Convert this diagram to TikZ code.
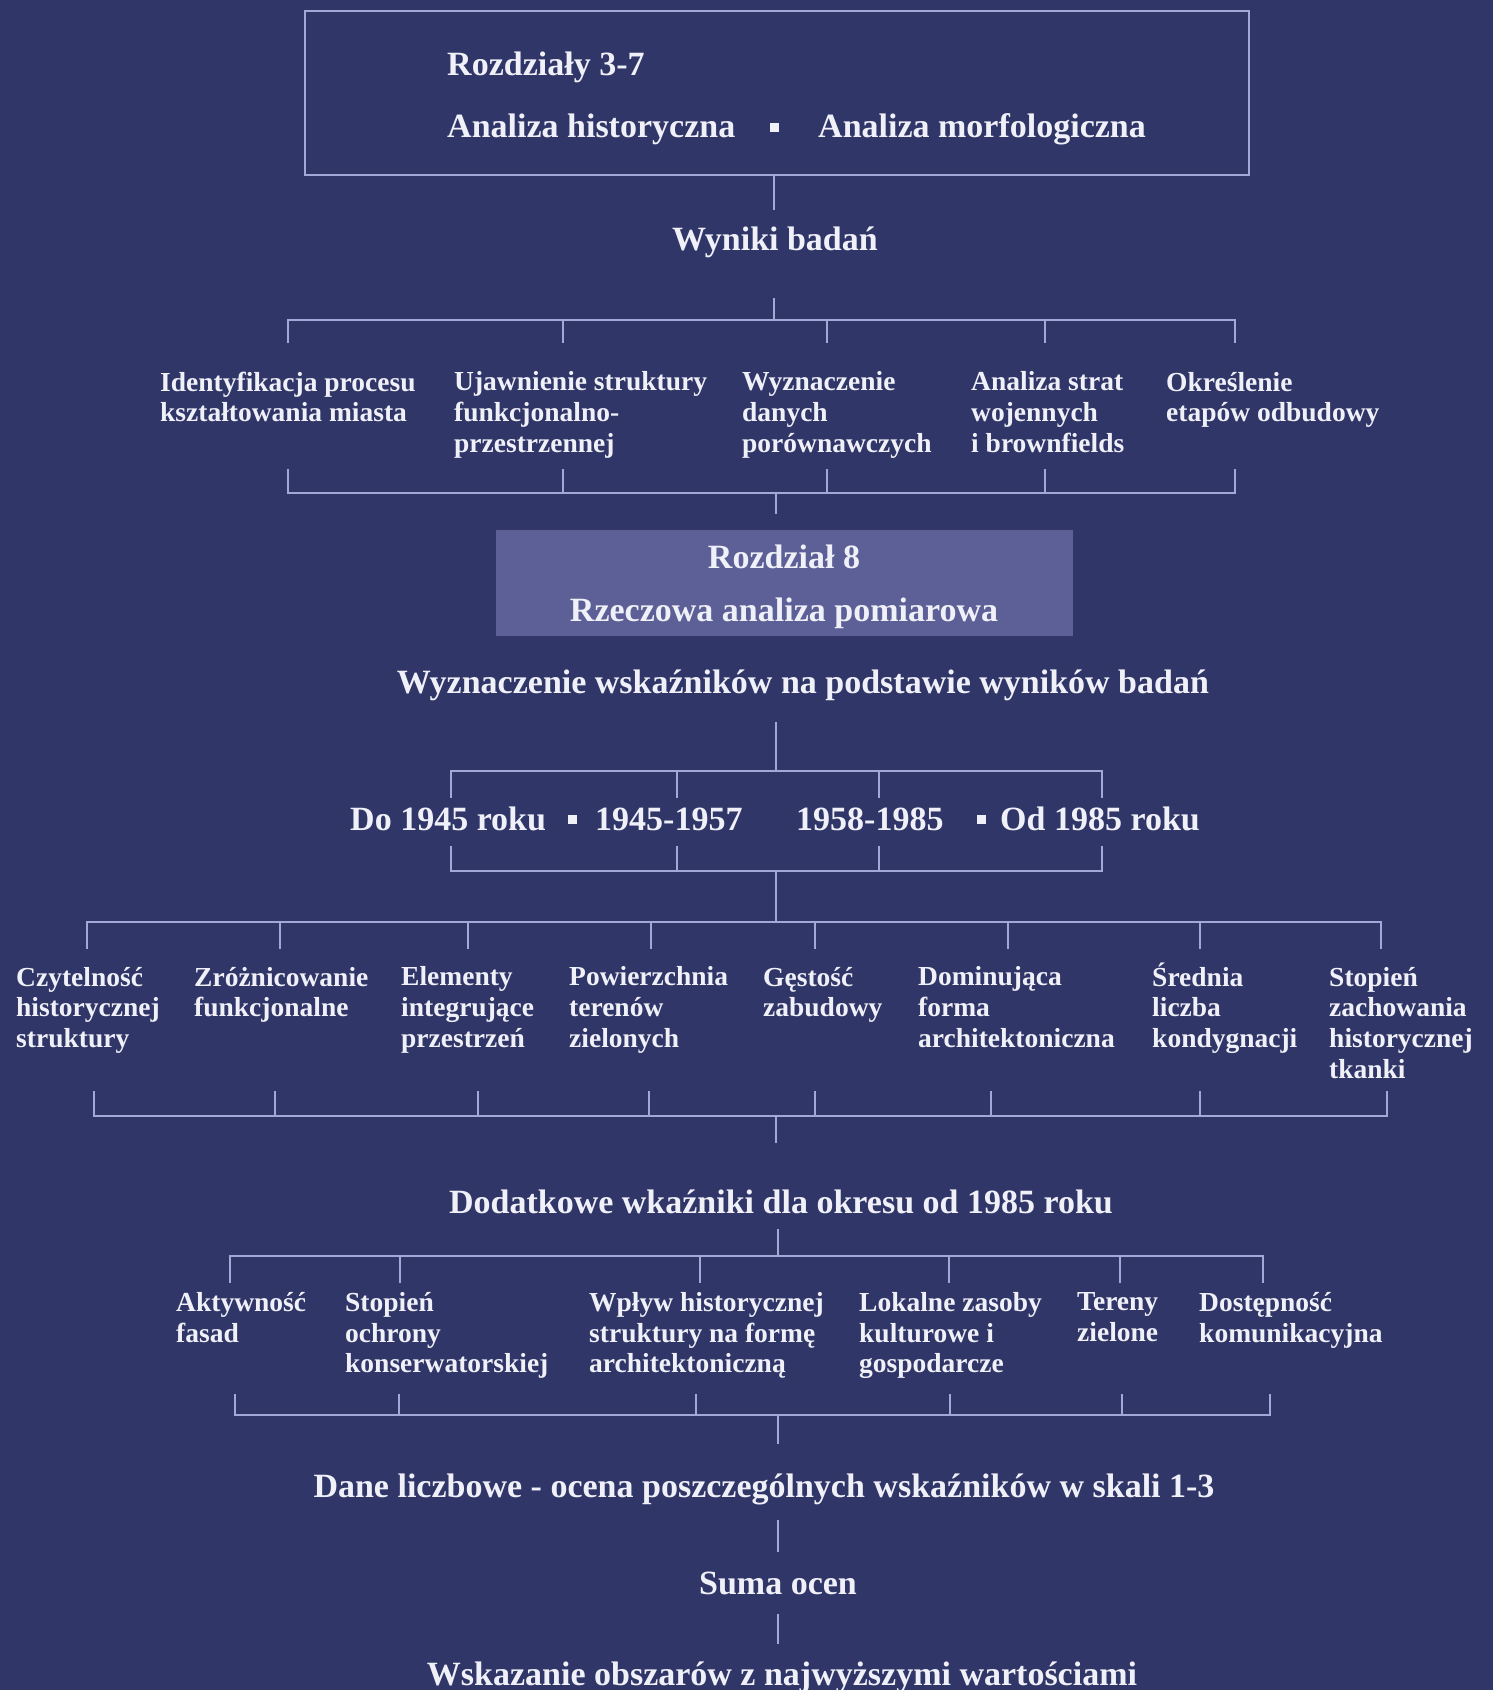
\documentclass[tikz,border=0pt]{standalone}
\usepackage{fontspec}
\setmainfont{Liberation Serif}
\definecolor{bg}{HTML}{303668}
\definecolor{ln}{HTML}{A3A8D8}
\definecolor{tx}{HTML}{F0F0F8}
\definecolor{boxfill}{HTML}{5C6097}
\begin{document}
\begin{tikzpicture}[x=1pt,y=-1pt,
  conn/.style={draw=ln, line width=2.4pt},
  head/.style={text=tx, font=\fontsize{34}{40}\selectfont\bfseries, inner sep=0pt, anchor=base},
  lbl/.style={text=tx, font=\fontsize{27.5}{30.7}\selectfont\bfseries, align=left, inner sep=0pt, anchor=north west},
  sq/.style={fill=tx, minimum size=9pt, inner sep=0pt}]
\useasboundingbox (0,0) rectangle (1493,1690);
\fill[bg] (0,0) rectangle (1493,1690);

% ---- top box
\node[draw=ln, line width=2pt, minimum width=944pt, minimum height=164pt, inner sep=0pt] (top) at (777,93) {};
\node[head, anchor=base west] (r37) at (447,75) {Rozdziały 3-7};
\node[head, anchor=base west] (ah) at (447,137) {Analiza historyczna};
\node[sq] (d0) at (774,127) {};
\node[head, anchor=base west] (am) at (818,137) {Analiza morfologiczna};

\coordinate (s1) at (774,210);
\draw[conn] (s1 |- top.south) -- (s1);
\node[head] (wyniki) at (775,250) {Wyniki badań};
\coordinate (s2) at (774,298);

% ---- bracket 1
\foreach \x [count=\i] in {288,563,827,1045,1235} {
  \coordinate (b1t\i) at (\x,320); \coordinate (b1e\i) at (\x,343);
  \coordinate (b1u\i) at (\x,469); \coordinate (b1b\i) at (\x,493);
}
\coordinate (b1m) at (774,320);
\draw[conn] (s2) -- (b1m);
\draw[conn] (b1e1) -- (b1t1) -- (b1t5) -- (b1e5);
\foreach \i in {2,3,4} \draw[conn] (b1t\i) -- (b1e\i);
\draw[conn] (b1u1) -- (b1b1) -- (b1b5) -- (b1u5);
\foreach \i in {2,3,4} \draw[conn] (b1b\i) -- (b1u\i);

\node[lbl] (a1) at (160,371.7) {Identyfikacja procesu\\kształtowania miasta};
\node[lbl] (a2) at (454,371.7) {Ujawnienie struktury\\funkcjonalno-\\przestrzennej};
\node[lbl] (a3) at (742,371.7) {Wyznaczenie\\danych\\porównawczych};
\node[lbl] (a4) at (971,371.7) {Analiza strat\\wojennych\\i brownfields};
\node[lbl] (a5) at (1166,371.7) {Określenie\\etapów odbudowy};

% ---- Rozdzial 8
\coordinate (b1c) at (776,493);
\coordinate (s3) at (776,514);
\draw[conn] (b1c) -- (s3);
\node[fill=boxfill, minimum width=577pt, minimum height=106pt, inner sep=0pt] (r8) at (784.5,583) {};
\node[head] (r8a) at (784,568) {Rozdział 8};
\node[head] (r8b) at (784,621) {Rzeczowa analiza pomiarowa};

\node[head] (wyzn) at (803,693) {Wyznaczenie wskaźników na podstawie wyników badań};

% ---- bracket 2 (periods)
\coordinate (s4) at (776,722);
\coordinate (b2m) at (776,771);
\draw[conn] (s4) -- (b2m);
\foreach \x [count=\i] in {451,677,879,1102} {
  \coordinate (b2t\i) at (\x,771); \coordinate (b2e\i) at (\x,798);
  \coordinate (b2u\i) at (\x,846); \coordinate (b2b\i) at (\x,871);
}
\draw[conn] (b2e1) -- (b2t1) -- (b2t4) -- (b2e4);
\foreach \i in {2,3} \draw[conn] (b2t\i) -- (b2e\i);
\draw[conn] (b2u1) -- (b2b1) -- (b2b4) -- (b2u4);
\foreach \i in {2,3} \draw[conn] (b2b\i) -- (b2u\i);

\node[head, anchor=base west] (p1) at (350,830) {Do 1945 roku};
\node[sq] (d1) at (572,819) {};
\node[head, anchor=base west] (p2) at (595,830) {1945-1957};
\node[head, anchor=base west] (p3) at (796,830) {1958-1985};
\node[sq] (d2) at (981,819) {};
\node[head, anchor=base west] (p4) at (1000,830) {Od 1985 roku};

% ---- bracket 3 (indicators)
\coordinate (b2c) at (776,871);
\coordinate (b3m) at (776,922);
\draw[conn] (b2c) -- (b3m);
\foreach \x [count=\i] in {87,280,468,651,815,1008,1200,1381} {
  \coordinate (b3t\i) at (\x,922); \coordinate (b3e\i) at (\x,949);
}
\foreach \x [count=\i] in {94,275,478,649,815,991,1200,1387} {
  \coordinate (b3u\i) at (\x,1091); \coordinate (b3b\i) at (\x,1116);
}
\draw[conn] (b3e1) -- (b3t1) -- (b3t8) -- (b3e8);
\foreach \i in {2,...,7} \draw[conn] (b3t\i) -- (b3e\i);
\draw[conn] (b3u1) -- (b3b1) -- (b3b8) -- (b3u8);
\foreach \i in {2,...,7} \draw[conn] (b3b\i) -- (b3u\i);

\node[lbl] (c1) at (16,966.7) {Czytelność\\historycznej\\struktury};
\node[lbl] (c2) at (194,966.7) {Zróżnicowanie\\funkcjonalne};
\node[lbl] (c3) at (401,966.7) {Elementy\\integrujące\\przestrzeń};
\node[lbl] (c4) at (569,966.7) {Powierzchnia\\terenów\\zielonych};
\node[lbl] (c5) at (763,966.7) {Gęstość\\zabudowy};
\node[lbl] (c6) at (918,966.7) {Dominująca\\forma\\architektoniczna};
\node[lbl] (c7) at (1152,962.2) {Średnia\\liczba\\kondygnacji};
\node[lbl] (c8) at (1329,966.7) {Stopień\\zachowania\\historycznej\\tkanki};

% ---- additional indicators
\coordinate (b3c) at (776,1116);
\coordinate (s5) at (776,1143);
\draw[conn] (b3c) -- (s5);
\node[head] (dod) at (781,1213) {Dodatkowe wkaźniki dla okresu od 1985 roku};
\coordinate (s6) at (778,1229);
\coordinate (b4m) at (778,1256);
\draw[conn] (s6) -- (b4m);
\foreach \x [count=\i] in {230,400,700,949,1120,1263} {
  \coordinate (b4t\i) at (\x,1256); \coordinate (b4e\i) at (\x,1283);
}
\foreach \x [count=\i] in {235,399,696,950,1122,1270} {
  \coordinate (b4u\i) at (\x,1394); \coordinate (b4b\i) at (\x,1415);
}
\draw[conn] (b4e1) -- (b4t1) -- (b4t6) -- (b4e6);
\foreach \i in {2,...,5} \draw[conn] (b4t\i) -- (b4e\i);
\draw[conn] (b4u1) -- (b4b1) -- (b4b6) -- (b4u6);
\foreach \i in {2,...,5} \draw[conn] (b4b\i) -- (b4u\i);

\node[lbl] (e1) at (176,1292.2) {Aktywność\\fasad};
\node[lbl] (e2) at (345,1292.2) {Stopień\\ochrony\\konserwatorskiej};
\node[lbl] (e3) at (589,1292.2) {Wpływ historycznej\\struktury na formę\\architektoniczną};
\node[lbl] (e4) at (859,1292.2) {Lokalne zasoby\\kulturowe i\\gospodarcze};
\node[lbl] (e5) at (1077,1292.2) {Tereny\\zielone};
\node[lbl] (e6) at (1199,1292.2) {Dostępność\\komunikacyjna};

% ---- bottom chain
\coordinate (b4c) at (778,1415);
\coordinate (s7) at (778,1444);
\draw[conn] (b4c) -- (s7);
\node[head] (dane) at (764,1497) {Dane liczbowe - ocena poszczególnych wskaźników w skali 1-3};
\coordinate (s8) at (778,1520);
\coordinate (s9) at (778,1552);
\draw[conn] (s8) -- (s9);
\node[head] (suma) at (778,1594) {Suma ocen};
\coordinate (s10) at (778,1614);
\coordinate (s11) at (778,1644);
\draw[conn] (s10) -- (s11);
\node[head] (wsk) at (782,1685) {Wskazanie obszarów z najwyższymi wartościami};
\end{tikzpicture}
\end{document}
